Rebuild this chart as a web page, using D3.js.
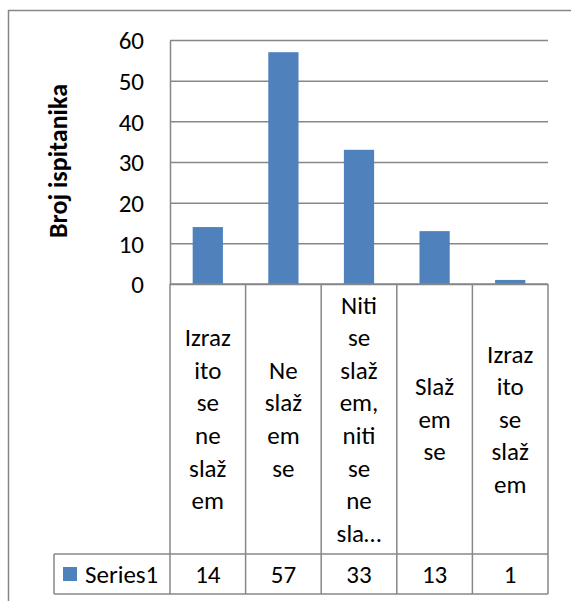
<!DOCTYPE html>
<html>
<head>
<meta charset="utf-8">
<script src="https://cdn.jsdelivr.net/npm/d3@7"></script>
<style>
  body { margin: 0; background: #fff; }
  text { font-family: Carlito, Calibri, Lato, sans-serif; fill: #000; }
</style>
</head>
<body>
<div id="chart"></div>
<script>
// Chart data
var categories = ["Izrazito se ne slažem", "Ne slažem se", "Niti se slažem, niti se ne slažem", "Slažem se", "Izrazito se slažem"];
// How each category label is wrapped in the data table cell
var categoryLines = [
    ["Izraz", "ito", "se", "ne", "slaž", "em"],
    ["Ne", "slaž", "em", "se"],
    ["Niti", "se", "slaž", "em,", "niti", "se", "ne", "sla…"],
    ["Slaž", "em", "se"],
    ["Izraz", "ito", "se", "slaž", "em"]
];
var seriesName = "Series1";
var seriesValues = [14, 57, 33, 13, 1];
var yTicks = [0, 10, 20, 30, 40, 50, 60];
var yTitle = "Broj ispitanika";

var fullWidth = 571, fullHeight = 601;
var plot = { left: 170, right: 548, top: 40, bottom: 284 };
var tableBottom = 594, rowTop = 554, tableLeft = 54;
var gridColor = "#878787";
var barColor = "#4f81bd";
var fontSize = 25;

var svg = d3.select("#chart").append("svg")
    .attr("width", fullWidth)
    .attr("height", fullHeight);

// Outer chart border (runs off the right and bottom edges)
svg.append("path")
    .attr("d", "M8.5," + fullHeight + "V10.5H" + fullWidth)
    .attr("fill", "none")
    .attr("stroke", gridColor)
    .attr("stroke-width", 1.5);

var x = d3.scaleBand().domain(categories).range([plot.left, plot.right]);
var y = d3.scaleLinear().domain([0, 60]).range([plot.bottom, plot.top]);

// Gridlines
svg.append("g")
    .attr("transform", "translate(" + plot.left + ",0)")
    .call(d3.axisLeft(y).tickValues(yTicks).tickSize(-(plot.right - plot.left)).tickFormat(""))
    .call(g => g.select(".domain").remove())
    .selectAll(".tick line")
    .attr("stroke", gridColor)
    .attr("stroke-width", 1.5);

// Bars
var barWidth = x.bandwidth() * 0.4;
svg.append("g").selectAll("rect")
    .data(seriesValues)
    .enter().append("rect")
    .attr("x", (d, i) => x(categories[i]) + (x.bandwidth() - barWidth) / 2)
    .attr("y", d => y(d))
    .attr("width", barWidth)
    .attr("height", d => y(0) - y(d))
    .attr("fill", barColor);

// Y axis with labels
var yAxis = svg.append("g")
    .attr("transform", "translate(" + plot.left + ",0)")
    .call(d3.axisLeft(y).tickValues(yTicks).tickSize(0).tickSizeOuter(0).tickPadding(26));
yAxis.select(".domain").attr("stroke", gridColor).attr("stroke-width", 1.5);
yAxis.selectAll(".tick text")
    .style("font-family", "Carlito, Calibri, Lato, sans-serif")
    .style("font-size", fontSize + "px")
    .attr("fill", "#000")
    .attr("dy", "0.35em");

// Y axis title
svg.append("text")
    .attr("transform", "translate(67," + ((plot.top + plot.bottom) / 2 - 1) + ") rotate(-90)")
    .attr("text-anchor", "middle")
    .style("font-size", "26px")
    .style("font-weight", "bold")
    .text(yTitle);

// DATA TABLE ---------------------------------------------
var table = svg.append("g")
    .attr("fill", "none")
    .attr("stroke", gridColor)
    .attr("stroke-width", 1.5);

// horizontal lines
table.append("line").attr("x1", plot.left).attr("x2", plot.right).attr("y1", plot.bottom).attr("y2", plot.bottom);
table.append("line").attr("x1", tableLeft).attr("x2", plot.right).attr("y1", rowTop).attr("y2", rowTop);
table.append("line").attr("x1", tableLeft).attr("x2", plot.right).attr("y1", tableBottom).attr("y2", tableBottom);
// vertical lines
table.append("line").attr("x1", tableLeft).attr("x2", tableLeft).attr("y1", rowTop).attr("y2", tableBottom);
table.selectAll(".col")
    .data(categories.concat([null]))
    .enter().append("line")
    .attr("x1", d => d === null ? plot.right : x(d))
    .attr("x2", d => d === null ? plot.right : x(d))
    .attr("y1", plot.bottom)
    .attr("y2", tableBottom);

// Category labels, centred in each cell
var lineHeight = 32.6;
var cellMid = (plot.bottom + rowTop) / 2;
categoryLines.forEach(function(lines, i) {
    var cx = x(categories[i]) + x.bandwidth() / 2;
    var startY = cellMid - (lines.length - 1) * lineHeight / 2;
    svg.append("g").selectAll("text")
        .data(lines)
        .enter().append("text")
        .attr("x", cx)
        .attr("y", (d, j) => startY + j * lineHeight)
        .attr("dy", "0.35em")
        .attr("text-anchor", "middle")
        .style("font-size", fontSize + "px")
        .text(d => d);
});

// Series row
var rowMid = (rowTop + tableBottom) / 2;
svg.append("rect")
    .attr("x", 63)
    .attr("y", rowMid - 7)
    .attr("width", 14)
    .attr("height", 14)
    .attr("fill", barColor);
svg.append("text")
    .attr("x", 85)
    .attr("y", rowMid)
    .attr("dy", "0.35em")
    .style("font-size", fontSize + "px")
    .text(seriesName);
svg.append("g").selectAll("text")
    .data(seriesValues)
    .enter().append("text")
    .attr("x", (d, i) => x(categories[i]) + x.bandwidth() / 2)
    .attr("y", rowMid)
    .attr("dy", "0.35em")
    .attr("text-anchor", "middle")
    .style("font-size", fontSize + "px")
    .text(d => d);
</script>
</body>
</html>
